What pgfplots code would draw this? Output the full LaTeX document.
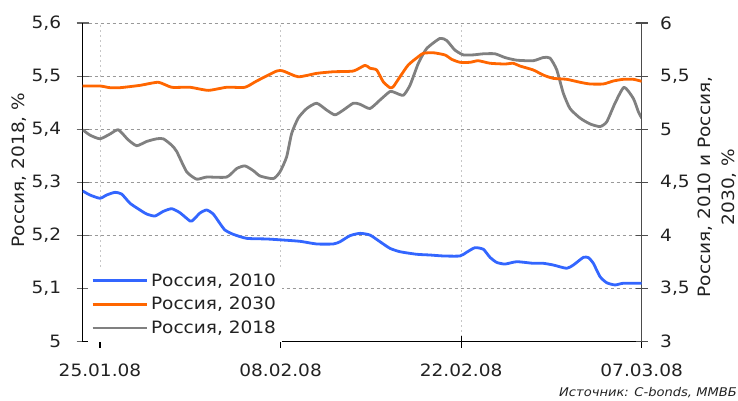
\documentclass[border=0pt]{standalone}
\usepackage{fontspec}
\setmainfont{DejaVu Sans}[FakeStretch=1.09]
\usepackage{pgfplots}
\pgfplotsset{compat=1.18}
\definecolor{cblue}{RGB}{51,102,255}
\definecolor{corange}{RGB}{255,102,0}
\definecolor{cgray}{RGB}{128,128,128}
\definecolor{ctext}{RGB}{34,34,34}
\newcommand\fs{\fontsize{17}{20}\selectfont}
\begin{document}
\begin{tikzpicture}
\useasboundingbox (-82.7pt,-58.3pt) rectangle (655.3pt,341.7pt);
\pgfplotsset{common/.style={
  width=559pt, height=318.7pt, scale only axis,
  at={(0pt,0pt)}, anchor=south west,
  xmin=-1.34, xmax=42,
  xtick={0,14,28,42},
  /pgf/number format/assume math mode=true,
  /pgf/number format/use comma,
  every tick label/.append style={font=\fs, text=ctext},
  major tick length=12pt, tick align=center,
  axis line style={-, line width=1.2pt},
  every tick/.style={line width=1.2pt},
  every axis plot/.append style={line width=2.8pt, line join=round, smooth, tension=0.35},
}}
\begin{axis}[common,
  axis y line*=left, axis x line*=bottom, ytick pos=left, xtick pos=bottom,
  ymin=5, ymax=5.6, ytick={5,5.1,5.2,5.3,5.4,5.5,5.6},
  y axis line style={black},
  ytick style={black!60},
  xtick style={black},
  xticklabels={25.01.08,08.02.08,22.02.08,07.03.08},
  yticklabel style={xshift=-12pt},
  xticklabel style={yshift=-13pt},
  grid=major,
  x grid style={black!22, line width=0.8pt, dash pattern=on 2pt off 3pt},
  y grid style={black!40, line width=0.8pt, dash pattern=on 3pt off 3pt},
]
\addplot[cgray] coordinates {
(-1.34,5.399) (-0.78,5.389) (0,5.382) (0.78,5.391) (1.42,5.399) (2.19,5.380) (2.85,5.369) (3.62,5.377) (4.40,5.382) (4.91,5.382) (5.56,5.370) (5.95,5.358) (6.72,5.320) (7.50,5.306) (8.27,5.310) (9.82,5.310) (10.60,5.326) (11.24,5.331) (11.89,5.322) (12.41,5.312) (13.44,5.307) (13.96,5.320) (14.47,5.348) (14.86,5.392) (15.37,5.421) (16.03,5.439) (16.80,5.449) (17.58,5.436) (18.22,5.427) (18.86,5.436) (19.64,5.449) (20.16,5.447) (20.93,5.439) (21.71,5.455) (22.48,5.471) (22.87,5.469) (23.52,5.464) (24.04,5.483) (24.68,5.524) (25.33,5.552) (26.36,5.571) (26.88,5.567) (27.52,5.549) (28.17,5.540) (28.94,5.540) (29.72,5.542) (30.63,5.542) (31.40,5.535) (32.31,5.530) (33.59,5.529) (34.37,5.535) (34.89,5.534) (35.41,5.512) (35.92,5.468) (36.44,5.439) (37.22,5.421) (37.99,5.410) (38.77,5.405) (39.29,5.414) (39.93,5.449) (40.63,5.479) (41.35,5.458) (41.74,5.433) (42.0,5.421)
};
\end{axis}
\begin{axis}[common,
  axis y line*=right, axis x line=none, ytick pos=right,
  ymin=3, ymax=6, ytick={3,3.5,4,4.5,5,5.5,6},
  y axis line style={black!70},
  ytick style={black!70},
  yticklabel style={xshift=9pt},
  legend style={at={(rel axis cs:0.0095,0)}, anchor=south west, draw=none, fill=white,
    font=\fs, text=ctext, inner xsep=3pt, inner ysep=5pt, row sep=6.5pt,
    nodes={inner xsep=3pt, inner ysep=1.5pt, anchor=west}},
  legend cell align=left,
  legend image code/.code={\draw[#1, sharp plot, line width=2.8pt] (0pt,0pt) -- (54pt,0pt);},
]
\addplot[cblue] coordinates {
(-1.34,4.419) (-0.78,4.381) (0,4.350) (0.52,4.381) (1.16,4.406) (1.68,4.390) (2.33,4.303) (3.10,4.240) (3.62,4.202) (4.26,4.183) (4.91,4.227) (5.56,4.252) (6.20,4.214) (6.98,4.136) (7.23,4.146) (7.75,4.211) (8.27,4.240) (8.78,4.202) (9.30,4.113) (9.69,4.051) (10.33,4.011) (11.37,3.973) (12.92,3.967) (14.21,3.957) (15.51,3.945) (16.80,3.920) (18.09,3.920) (18.61,3.941) (19.38,3.998) (20.16,4.020) (20.93,4.004) (21.71,3.941) (22.48,3.879) (23.26,3.847) (24.55,3.823) (25.59,3.816) (26.62,3.807) (27.91,3.807) (28.43,3.842) (29.07,3.885) (29.72,3.870) (30.24,3.794) (30.75,3.747) (31.40,3.731) (32.31,3.753) (33.59,3.738) (34.37,3.738) (35.14,3.722) (36.18,3.691) (36.70,3.722) (37.48,3.794) (37.87,3.791) (38.25,3.738) (38.77,3.612) (39.29,3.555) (39.93,3.534) (40.57,3.550) (42.0,3.550)
};
\addlegendentry{Россия, 2010}
\addplot[corange] coordinates {
(-1.34,5.407) (0,5.407) (0.78,5.391) (1.55,5.391) (3.10,5.413) (4.52,5.442) (5.56,5.395) (6.98,5.395) (8.40,5.366) (9.82,5.395) (11.24,5.395) (12.15,5.454) (13.70,5.548) (14.21,5.548) (15.37,5.494) (16.80,5.526) (18.09,5.541) (19.64,5.548) (20.55,5.602) (20.93,5.574) (21.45,5.558) (21.96,5.447) (22.48,5.391) (22.74,5.400) (23.26,5.494) (23.90,5.605) (24.68,5.683) (25.07,5.715) (25.84,5.720) (26.75,5.699) (27.27,5.658) (27.91,5.630) (28.69,5.630) (29.33,5.645) (30.24,5.621) (31.40,5.614) (32.04,5.621) (32.56,5.595) (33.59,5.558) (34.37,5.510) (35.14,5.479) (36.18,5.470) (37.22,5.442) (37.99,5.426) (39.02,5.426) (39.80,5.454) (40.57,5.470) (41.35,5.470) (42.0,5.451)
};
\addlegendentry{Россия, 2030}
\addlegendimage{legend image code/.code={\draw[cgray, line width=2.8pt] (0pt,0pt) -- (54pt,0pt);}}
\addlegendentry{Россия, 2018}
\end{axis}
\node[rotate=90, font=\fs, text=ctext] at (-63.7pt,171.7pt) {Россия, 2018, \%};
\node[rotate=90, align=center, font=\fontsize{17}{24}\selectfont, text=ctext] at (634.3pt,154.7pt) {Россия, 2010 и Россия,\\2030, \%};
\node[anchor=east, font=\fontsize{12}{14}\selectfont\itshape, text=ctext, inner sep=0pt] at (654.3pt,-51.3pt) {Источник: C-bonds, ММВБ};
\end{tikzpicture}
\end{document}
